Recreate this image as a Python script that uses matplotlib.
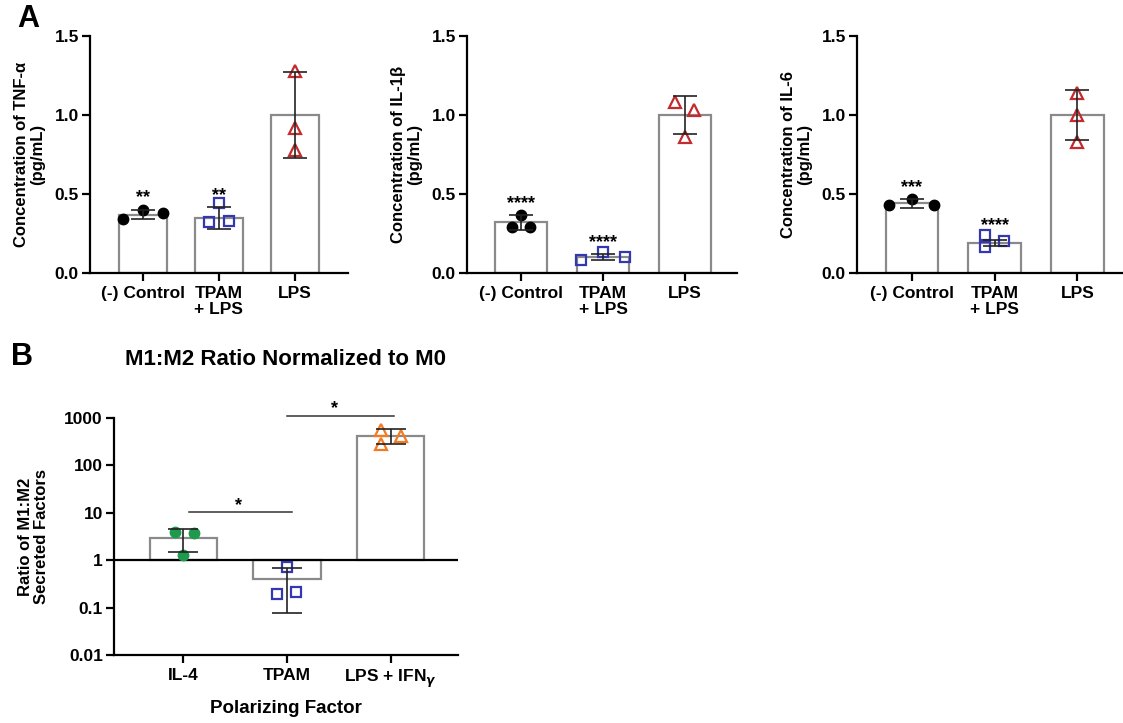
import matplotlib
matplotlib.use("Agg")
import matplotlib.pyplot as plt

plt.rcParams['font.family'] = ['Liberation Sans', 'DejaVu Sans']
plt.rcParams['font.weight'] = 'bold'
plt.rcParams['axes.labelweight'] = 'bold'
plt.rcParams['axes.titleweight'] = 'bold'

# Panel A data (normalized concentrations)
groups_a = ['(-) Control', 'TPAM\n+ LPS', 'LPS']

tnf_pts = [[0.34, 0.40, 0.38], [0.44, 0.32, 0.33], [1.28, 0.92, 0.78]]
tnf_off = [[-0.26, 0, 0.26], [0, -0.13, 0.13], [0, 0, 0]]
tnf_mean = [0.37, 0.35, 1.0]
tnf_sd = [0.03, 0.07, 0.27]
tnf_stars = ['**', '**', '']
tnf_star_y = [0.49, 0.50, 0]

il1b_pts = [[0.29, 0.37, 0.29], [0.08, 0.13, 0.10], [1.08, 0.86, 1.03]]
il1b_off = [[-0.11, 0, 0.11], [-0.27, 0, 0.27], [-0.13, 0, 0.11]]
il1b_mean = [0.32, 0.10, 1.0]
il1b_sd = [0.045, 0.02, 0.12]
il1b_stars = ['****', '****', '']
il1b_star_y = [0.45, 0.205, 0]

il6_pts = [[0.43, 0.47, 0.43], [0.24, 0.165, 0.20], [1.14, 1.0, 0.83]]
il6_off = [[-0.27, 0, 0.27], [-0.11, -0.11, 0.11], [0, 0, 0]]
il6_mean = [0.44, 0.19, 1.0]
il6_sd = [0.03, 0.02, 0.16]
il6_stars = ['***', '****', '']
il6_star_y = [0.55, 0.31, 0]

# Panel B data (M1:M2 ratio)
groups_b = ['IL-4', 'TPAM', 'LPS + IFN$_\\gamma$']
b_pts = [[4.0, 1.30, 3.7], [0.19, 0.73, 0.21], [567, 282, 410]]
b_off = [[-0.08, 0, 0.10], [-0.10, 0, 0.09], [-0.09, -0.09, 0.10]]
b_mean = [2.92, 0.40, 410]
b_lo = [1.52, 0.076, 282]
b_hi = [4.5, 0.70, 595]

blue = '#3338b0'
red = '#c42a2e'
green = '#1d9a4c'
orange = '#f47a22'
bar_edge = '#8a8a8a'


def style_axes(ax):
    for s in ['top', 'right']:
        ax.spines[s].set_visible(False)
    for s in ['left', 'bottom']:
        ax.spines[s].set_linewidth(1.6)
    ax.tick_params(axis='both', direction='out', length=6, width=1.6, labelsize=12.5)
    ax.tick_params(axis='y', pad=2)


def draw_points(ax, pts, offs, styles):
    for i, (vals, off) in enumerate(zip(pts, offs)):
        st = styles[i]
        ax.plot([i + o for o in off], vals, linestyle='none', zorder=3, **st)


def panel_a(ax, pts, offs, mean, sd, stars, star_y, ylabel, xlim):
    x = range(len(groups_a))
    ax.bar(x, mean, width=0.63, color='white', edgecolor=bar_edge, linewidth=1.6, zorder=1)
    styles = [dict(marker='o', ms=7.5, color='black'),
              dict(marker='s', ms=7, mfc='none', mec=blue, mew=1.6),
              dict(marker='^', ms=8, mfc='none', mec=red, mew=1.6)]
    draw_points(ax, pts, offs, styles)
    ax.errorbar(x, mean, yerr=sd, fmt='none', ecolor='#222222', elinewidth=1.2,
                capsize=8.5, capthick=1.2, zorder=4)
    for i, s in enumerate(stars):
        if s:
            ax.annotate(s, (i, star_y[i]), xytext=(0, -4.5), textcoords='offset points',
                        ha='center', va='baseline', fontsize=13)
    ax.set_ylim(0, 1.5)
    ax.set_yticks([0.0, 0.5, 1.0, 1.5])
    ax.set_yticklabels(['0.0', '0.5', '1.0', '1.5'])
    ax.set_xlim(*xlim)
    ax.set_xticks(list(x))
    ax.set_xticklabels(groups_a, linespacing=1.05)
    ax.set_ylabel(ylabel, fontsize=12, labelpad=7, linespacing=1.1)
    style_axes(ax)


fig = plt.figure(figsize=(11.23, 7.23), dpi=100)

ax1 = fig.add_axes([0.0801, 0.6224, 0.2297, 0.3278])
panel_a(ax1, tnf_pts, tnf_off, tnf_mean, tnf_sd, tnf_stars, tnf_star_y,
        'Concentration of TNF-α\n(pg/mL)', (-0.7, 2.7))

ax2 = fig.add_axes([0.4158, 0.6224, 0.2404, 0.3278])
panel_a(ax2, il1b_pts, il1b_off, il1b_mean, il1b_sd, il1b_stars, il1b_star_y,
        'Concentration of IL-1β\n(pg/mL)', (-0.66, 2.63))

ax3 = fig.add_axes([0.7631, 0.6224, 0.245, 0.3278])
panel_a(ax3, il6_pts, il6_off, il6_mean, il6_sd, il6_stars, il6_star_y,
        'Concentration of IL-6\n(pg/mL)', (-0.66, 2.66))

# Panel B
axb = fig.add_axes([0.1015, 0.094, 0.3063, 0.3278])
xb = range(len(groups_b))
axb.set_yscale('log')
axb.bar(xb, [m - 1 for m in b_mean], bottom=1, width=0.65, color='white',
        edgecolor=bar_edge, linewidth=1.6, zorder=1)
b_styles = [dict(marker='o', ms=7.5, color=green),
            dict(marker='s', ms=7, mfc='none', mec=blue, mew=1.6),
            dict(marker='^', ms=8, mfc='none', mec=orange, mew=1.6)]
draw_points(axb, b_pts, b_off, b_styles)
yerr = [[m - lo for m, lo in zip(b_mean, b_lo)], [hi - m for m, hi in zip(b_mean, b_hi)]]
axb.errorbar(xb, b_mean, yerr=yerr, fmt='none', ecolor='#222222', elinewidth=1.2,
             capsize=11, capthick=1.2, zorder=4)
axb.axhline(1, color='black', linewidth=1.6, zorder=2)
# significance brackets
axb.plot([0.05, 1.05], [10.2, 10.2], color='#333333', linewidth=1.1, clip_on=False)
axb.plot([1.0, 2.03], [1120, 1120], color='#333333', linewidth=1.1, clip_on=False)
axb.annotate('*', (0.53, 16.3), xytext=(0, -5), textcoords='offset points',
             ha='center', va='baseline', fontsize=13, annotation_clip=False)
axb.annotate('*', (1.46, 1740), xytext=(0, -5), textcoords='offset points',
             ha='center', va='baseline', fontsize=13, annotation_clip=False)
axb.set_ylim(0.01, 1000)
axb.set_yticks([0.01, 0.1, 1, 10, 100, 1000])
axb.set_yticklabels(['0.01', '0.1', '1', '10', '100', '1000'])
axb.minorticks_off()
axb.set_xlim(-0.67, 2.65)
axb.set_xticks(list(xb))
axb.set_xticklabels(groups_b)
axb.set_xlabel('Polarizing Factor', fontsize=13.5, labelpad=7)
axb.set_ylabel('Ratio of M1:M2\nSecreted Factors', fontsize=12, labelpad=11, linespacing=1.1)
axb.set_title('M1:M2 Ratio Normalized to M0', fontsize=16, pad=38)
style_axes(axb)

fig.text(0.025, 0.974, 'A', fontsize=22, fontweight='bold', ha='center', va='center')
fig.text(0.020, 0.506, 'B', fontsize=22, fontweight='bold', ha='center', va='center')

fig.savefig('out.png', dpi=100)
